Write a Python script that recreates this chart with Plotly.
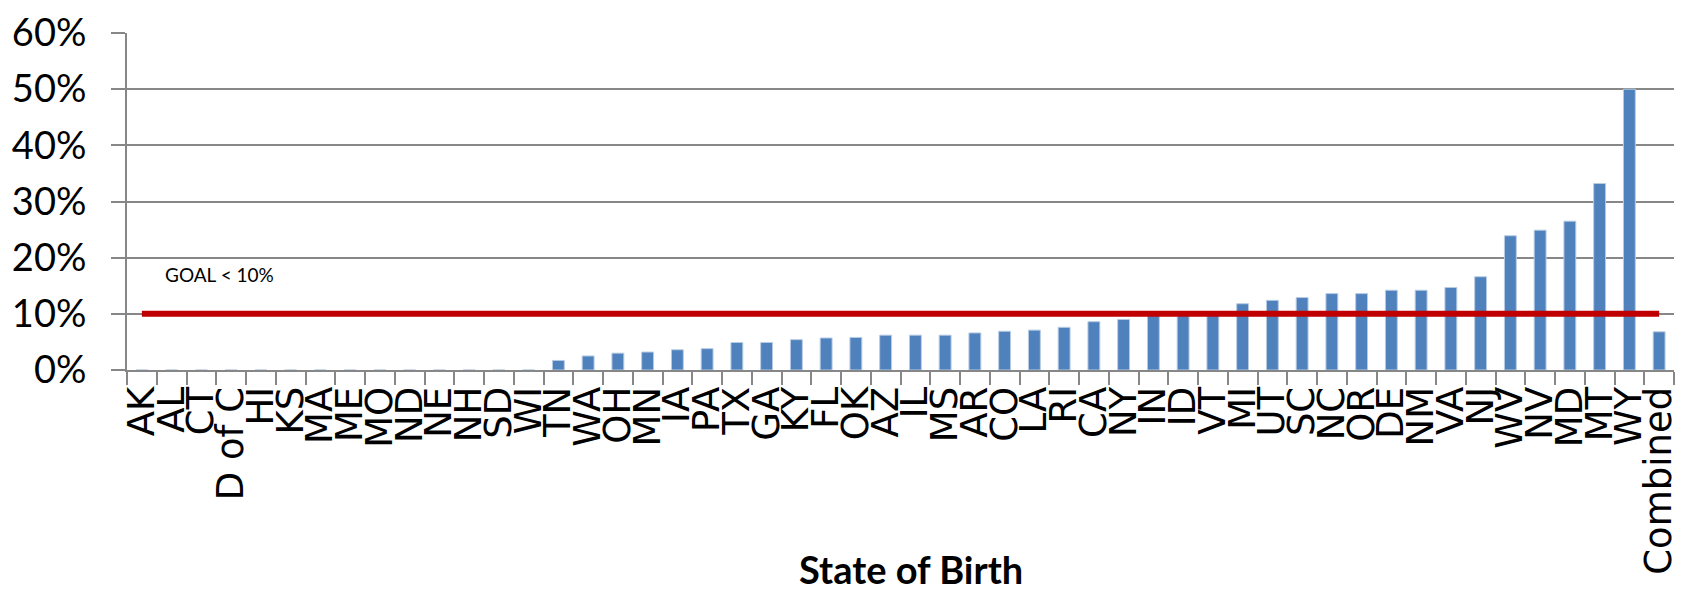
import plotly.graph_objects as go

# States of birth, ordered by rate, with the overall figure last
states = ["AK", "AL", "CT", "D of C", "HI", "KS", "MA", "ME", "MO", "ND", "NE", "NH",
          "SD", "WI", "TN", "WA", "OH", "MN", "IA", "PA", "TX", "GA", "KY", "FL",
          "OK", "AZ", "IL", "MS", "AR", "CO", "LA", "RI", "CA", "NY", "IN", "ID",
          "VT", "MI", "UT", "SC", "NC", "OR", "DE", "NM", "VA", "NJ", "WV", "NV",
          "MD", "MT", "WY", "Combined"]

rates = [0, 0, 0, 0, 0, 0, 0, 0, 0, 0, 0, 0,
         0, 0, 0.017, 0.025, 0.030, 0.032, 0.036, 0.038, 0.049, 0.049, 0.054, 0.057,
         0.058, 0.062, 0.062, 0.062, 0.066, 0.069, 0.071, 0.076, 0.086, 0.090, 0.098, 0.100,
         0.100, 0.118, 0.124, 0.129, 0.136, 0.136, 0.142, 0.142, 0.147, 0.166, 0.239, 0.249,
         0.265, 0.332, 0.500, 0.068]

goal = 0.10
goal_label = "GOAL < 10%"
x_title = "State of Birth"

grid_gray = "#878787"

fig = go.Figure()

fig.add_trace(go.Bar(
    x=states,
    y=rates,
    marker=dict(color="#4F81BD", line=dict(color="#B8CCE4", width=1)),
    showlegend=False,
    hoverinfo="x+y",
))

fig.add_trace(go.Scatter(
    x=states,
    y=[goal] * len(states),
    mode="lines",
    line=dict(color="#C00000", width=6),
    showlegend=False,
    hoverinfo="skip",
))

fig.add_annotation(
    x=0.06, xref="paper", y=0.17, yref="y",
    text=goal_label, showarrow=False,
    font=dict(family="Lato", size=19, color="#000000"),
    xanchor="center", yanchor="middle",
)

fig.add_annotation(
    x=0.507, xref="paper", y=0, yref="paper",
    yshift=-199, text=x_title, showarrow=False,
    font=dict(family="Lato", size=38, color="#000000", weight="bold"),
    xanchor="center", yanchor="middle",
)

fig.update_layout(
    width=1688, height=593,
    margin=dict(l=127, r=8, t=30, b=223),
    paper_bgcolor="white", plot_bgcolor="white",
    bargap=0.6,
)

fig.update_xaxes(
    type="category",
    tickmode="linear", tick0=0, dtick=1,
    tickangle=-90,
    tickfont=dict(family="DejaVu Sans", size=37, color="#000000"),
    showline=True, linecolor=grid_gray, linewidth=2,
    ticks="outside", ticklen=13, tickwidth=1.5, tickcolor=grid_gray,
    tickson="boundaries",
    showgrid=False,
    range=[-0.5, len(states) - 0.5],
)

fig.update_yaxes(
    range=[0, 0.6],
    tickmode="linear", tick0=0, dtick=0.1,
    tickformat=".0%",
    tickfont=dict(family="Lato", size=38, color="#000000"),
    showgrid=True, gridcolor=grid_gray, gridwidth=2,
    showline=True, linecolor=grid_gray, linewidth=2,
    ticks="outside", ticklen=14, tickwidth=2, tickcolor=grid_gray,
    ticklabelstandoff=17,
    zeroline=False,
)

fig.write_html("out.html")
